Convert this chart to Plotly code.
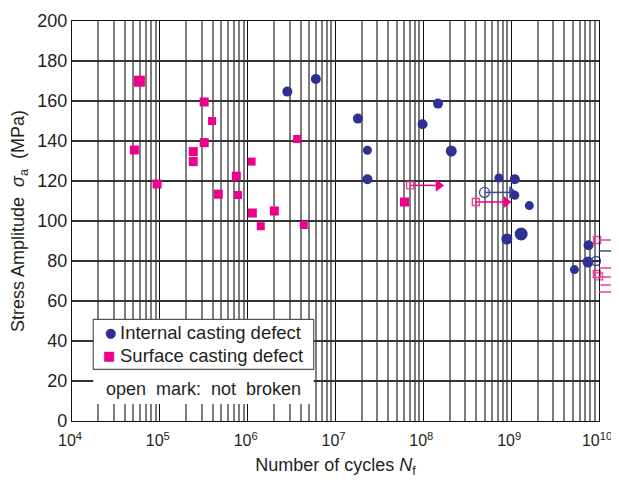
import math
import plotly.graph_objects as go

# ---------------- data ----------------
# Internal casting defect (broken)
int_N = [2.83e6, 5.97e6, 1.80e7, 2.31e7, 2.31e7, 9.8e7, 1.47e8, 2.08e8, 7.25e8,
         1.10e9, 1.10e9, 1.61e9, 8.93e8, 1.30e9, 7.6e9, 7.5e9, 5.25e9]
int_S = [164.7, 171.0, 151.2, 135.4, 120.9, 148.4, 158.7, 135.0, 121.5,
         120.9, 112.9, 107.7, 91.0, 93.5, 87.9, 79.5, 75.7]
int_size = [10, 10, 10, 9, 10, 10, 10, 11, 9, 10, 9, 9, 11, 13, 10, 11, 9]

# Surface casting defect (broken)
surf_N = [5.85e4, 5.13e4, 9.3e4, 3.2e5, 3.93e5, 3.2e5, 2.4e5, 2.4e5, 4.63e5,
          7.43e5, 7.77e5, 1.11e6, 1.13e6, 1.41e6, 2.01e6, 3.66e6, 4.36e6, 6.1e7]
surf_S = [169.9, 135.5, 118.5, 159.5, 150.0, 139.2, 134.7, 129.7, 113.4,
          122.4, 113.0, 129.7, 104.0, 97.4, 105.0, 141.0, 98.0, 109.5]
surf_size = [11, 9, 9, 9, 8, 9, 9, 9, 9, 9, 8, 8, 9, 8, 9, 8, 8, 9]

# Run-outs (open marks: not broken), arrows ending inside the chart
int_run_N = [4.97e8]
int_run_S = [114.3]
int_run_end = [1.02e9]
surf_run_N = [7.08e7, 3.96e8]
surf_run_S = [117.8, 109.5]
surf_run_end = [1.49e8, 8.77e8]

# Run-outs at 10^10 (lines extend beyond the axis)
edge_end_N = 1.6e10
edge_int_N = [9.25e9, 9.5e9]
edge_int_S = [80.0, 85.0]
edge_int_mark = [True, False]
edge_surf_N = [9.5e9, 1.10e10, 9.7e9, 9.45e9, 1.0e10, 9.6e9]
edge_surf_S = [90.5, 79.8, 76.5, 73.5, 72.3, 64.5]
edge_surf_mark = [True, True, False, True, True, False]
edge_surf_line = [90.5, 79.8, 76.5, 72.0, 68.0, 64.5]

x_ticks = [1e4, 1e5, 1e6, 1e7, 1e8, 1e9, 1e10]
x_ticktext = ["10<sup>%d</sup>" % e for e in range(4, 11)]
y_ticks = list(range(0, 201, 20))

BLUE = "#2E3192"
BLUE_OPEN = "#3B4AA0"
PINK = "#EC008C"
PINK_OPEN = "#EE3C96"
FONT = "Liberation Sans, Arial, Helvetica, sans-serif"
TXT = "#231F20"

fig = go.Figure()

# run-out lines inside the chart
for n0, s, n1 in zip(surf_run_N, surf_run_S, surf_run_end):
    fig.add_trace(go.Scatter(x=[n0, n1], y=[s, s], mode="lines",
                             line=dict(color=PINK, width=1.5), showlegend=False,
                             hoverinfo="skip"))
for n0, s, n1 in zip(int_run_N, int_run_S, int_run_end):
    fig.add_trace(go.Scatter(x=[n0, n1], y=[s, s], mode="lines",
                             line=dict(color=BLUE_OPEN, width=1.5), showlegend=False,
                             hoverinfo="skip"))
# arrow heads
fig.add_trace(go.Scatter(x=surf_run_end, y=surf_run_S, mode="markers",
                         marker=dict(symbol="triangle-right", size=11, color=PINK,
                                     opacity=1, line=dict(width=0)),
                         showlegend=False, hoverinfo="skip"))
fig.add_trace(go.Scatter(x=int_run_end, y=int_run_S, mode="markers",
                         marker=dict(symbol="triangle-right", size=11, color=BLUE_OPEN,
                                     opacity=1, line=dict(width=0)),
                         showlegend=False, hoverinfo="skip"))

# broken specimens
fig.add_trace(go.Scatter(x=surf_N, y=surf_S, mode="markers",
                         marker=dict(symbol="square", size=surf_size, color=PINK,
                                     opacity=1, line=dict(width=0)),
                         name="Surface casting defect", showlegend=False))
fig.add_trace(go.Scatter(x=int_N, y=int_S, mode="markers",
                         marker=dict(symbol="circle", size=int_size, color=BLUE,
                                     opacity=1, line=dict(width=0)),
                         name="Internal casting defect", showlegend=False))

# open marks (not broken)
fig.add_trace(go.Scatter(x=surf_run_N, y=surf_run_S, mode="markers",
                         marker=dict(symbol="square-open", size=7, color=PINK_OPEN,
                                     line=dict(width=1.3)),
                         showlegend=False, hoverinfo="skip"))
fig.add_trace(go.Scatter(x=int_run_N, y=int_run_S, mode="markers",
                         marker=dict(symbol="circle-open", size=10, color=BLUE_OPEN,
                                     line=dict(width=1.3)),
                         showlegend=False, hoverinfo="skip"))

# run-outs at the right edge: lines beyond the axis via annotations
lx_end = math.log10(edge_end_N)
for n0, s in zip(edge_surf_N, edge_surf_line):
    fig.add_annotation(x=lx_end, y=s, ax=math.log10(n0), ay=s, axref="x", ayref="y",
                       xref="x", yref="y", text="", showarrow=True, arrowhead=0,
                       arrowwidth=1.4, arrowcolor=PINK_OPEN, standoff=0, startstandoff=0)
for n0, s in zip(edge_int_N, edge_int_S):
    if s > 82:
        fig.add_annotation(x=lx_end, y=s, ax=math.log10(n0), ay=s, axref="x", ayref="y",
                           xref="x", yref="y", text="", showarrow=True, arrowhead=0,
                           arrowwidth=1.4, arrowcolor=BLUE_OPEN, standoff=0, startstandoff=0)
cap_S = [s for s in edge_surf_line if s != 68.0]
fig.add_trace(go.Scatter(x=[edge_end_N] * len(cap_S), y=cap_S, mode="markers",
                         marker=dict(symbol="line-ns", size=9,
                                     line=dict(color=PINK_OPEN, width=1.6)),
                         cliponaxis=False, showlegend=False, hoverinfo="skip"))
fig.add_trace(go.Scatter(x=[n for n, m in zip(edge_surf_N, edge_surf_mark) if m],
                         y=[s for s, m in zip(edge_surf_S, edge_surf_mark) if m],
                         mode="markers",
                         marker=dict(symbol="square-open", size=7, color=PINK_OPEN,
                                     line=dict(width=1.3)),
                         cliponaxis=False, showlegend=False, hoverinfo="skip"))
fig.add_trace(go.Scatter(x=[n for n, m in zip(edge_int_N, edge_int_mark) if m],
                         y=[s for s, m in zip(edge_int_S, edge_int_mark) if m],
                         mode="markers",
                         marker=dict(symbol="circle-open", size=9, color=BLUE_OPEN,
                                     line=dict(width=1.3)),
                         cliponaxis=False, showlegend=False, hoverinfo="skip"))

minor_vals = [k * 10 ** d for d in range(4, 10) for k in range(2, 10)]

fig.update_xaxes(type="log", range=[4, 10], tickvals=x_ticks, ticktext=x_ticktext,
                 automargin=False, ticklabelshift=-2, ticklabelstandoff=5,
                 showgrid=True, gridcolor="#111111", gridwidth=1,
                 minor=dict(tickvals=minor_vals, showgrid=True, gridcolor="#7d7d7d",
                            gridwidth=1.5, ticks=""),
                 showline=True, linecolor="#111111", linewidth=1.2, mirror=True,
                 ticks="", zeroline=False,
                 tickfont=dict(family=FONT, size=16, color=TXT),
                 title=dict(text="Number of cycles <i>N</i><sub>f</sub>",
                            font=dict(family=FONT, size=18, color=TXT), standoff=10))
fig.update_yaxes(range=[0, 200], tickvals=y_ticks, showgrid=True, automargin=False,
                 gridcolor="#333333", gridwidth=1.5,
                 showline=True, linecolor="#111111", linewidth=1.2, mirror=True,
                 ticks="", zeroline=False,
                 tickfont=dict(family=FONT, size=18, color=TXT),
                 title=dict(text="Stress Amplitude\u00a0 <i>σ</i><sub>a</sub>\u00a0 (MPa)",
                            font=dict(family=FONT, size=18, color=TXT), standoff=12))

# legend area (white panel + bordered box)
fig.add_shape(type="rect", xref="paper", yref="paper", x0=0.0404, x1=0.4586,
              y0=0.0425, y1=0.254, fillcolor="white", line=dict(width=0), layer="above")
fig.add_shape(type="rect", xref="paper", yref="paper", x0=0.0404, x1=0.4586,
              y0=0.129, y1=0.254, fillcolor="rgba(0,0,0,0)",
              line=dict(color="#555555", width=1.2), layer="above")
fig.add_annotation(xref="paper", yref="paper", x=(110 - 72) / 527, y=0.2225,
                   text="●", showarrow=False, xanchor="center", yanchor="middle",
                   font=dict(family="DejaVu Sans", size=13, color=BLUE))
fig.add_annotation(xref="paper", yref="paper", x=(108.5 - 72) / 527, y=0.165,
                   text="■", showarrow=False, xanchor="center", yanchor="middle",
                   font=dict(family="DejaVu Sans", size=13, color=PINK))
fig.add_annotation(xref="paper", yref="paper", x=(118 - 72) / 527, y=0.2225,
                   text="Internal casting defect", showarrow=False, xanchor="left",
                   yanchor="middle", font=dict(family=FONT, size=18.5, color=TXT))
fig.add_annotation(xref="paper", yref="paper", x=(118 - 72) / 527, y=0.165,
                   text="Surface casting defect", showarrow=False, xanchor="left",
                   yanchor="middle", font=dict(family=FONT, size=18.5, color=TXT))
fig.add_annotation(xref="paper", yref="paper", x=(203.5 - 72) / 527, y=0.08,
                   text="open\u00a0 mark:\u00a0 not\u00a0 broken", showarrow=False,
                   xanchor="center", yanchor="middle",
                   font=dict(family=FONT, size=18, color=TXT))

# the page body adds an 8 px offset, so the figure is 8 px smaller and margins shifted
fig.update_layout(width=611, height=476, margin=dict(l=64, r=20, t=13, b=63),
                  paper_bgcolor="white", plot_bgcolor="white", showlegend=False)

fig.write_html("out.html")
